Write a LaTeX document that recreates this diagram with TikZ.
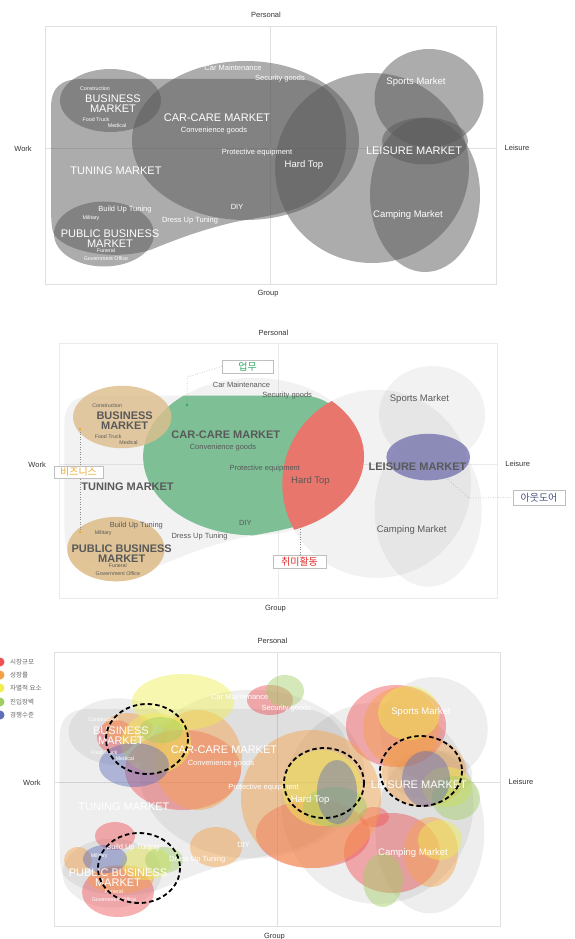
\documentclass[tikz,border=0pt]{standalone}
\usepackage{fontspec}
\setmainfont{Liberation Sans}
\newfontfamily\kr{Noto Sans CJK KR}
\usetikzlibrary{positioning}

\definecolor{cargreen}{RGB}{126,191,150}
\definecolor{biztan}{RGB}{224,192,142}
\definecolor{hobbyred}{RGB}{232,118,108}
\definecolor{outblue}{RGB}{128,126,180}
\definecolor{tagGreen}{RGB}{50,170,100}
\definecolor{tagGold}{RGB}{235,170,50}
\definecolor{tagRed}{RGB}{225,45,45}
\definecolor{tagBlue}{RGB}{70,85,130}
\definecolor{mkred}{RGB}{238,80,85}
\definecolor{mkorange}{RGB}{245,160,70}
\definecolor{mkyellow}{RGB}{240,238,80}
\definecolor{mkgreen}{RGB}{160,205,100}
\definecolor{mkblue}{RGB}{95,110,185}

\tikzset{
  marketshape/.style={fill=black!65, fill opacity=0.5},
  gridline/.style={draw=black!12, line width=0.5pt},
  axislabel/.style={font=\fontsize{7.5}{8}\selectfont, text=black!80},
  bigmarket/.style={font=\fontsize{11}{10}\selectfont, align=center, inner sep=0pt},
  midmarket/.style={font=\fontsize{9.5}{10}\selectfont, inner sep=0pt},
  smallitem/.style={font=\fontsize{7.5}{8}\selectfont, inner sep=0pt},
  tinyitem/.style={font=\fontsize{5.3}{6}\selectfont, inner sep=0pt},
  tagbox/.style={draw=black!25, fill=white, line width=0.4pt, font=\kr\fontsize{10}{10}\selectfont, minimum height=13pt, inner sep=1pt},
  tagline/.style={draw=black!45, line width=0.5pt, dotted},
  blob/.style={fill opacity=0.45},
  targetring/.style={draw=black, line width=1.8pt, dash pattern=on 4.5pt off 3pt},
  legendtext/.style={font=\kr\fontsize{6.5}{7}\selectfont, text=black!60, anchor=west, inner sep=0pt},
  paneltwo/.style={shift={(14.7,317.5)}, xscale=0.973, yscale=0.99},
  panelthree/.style={shift={(9.1,625.1)}, xscale=0.99, yscale=1.06},
}

\newcommand{\tuningblob}{(51,200) -- (51,108) .. controls (51,88) and (60,79) .. (82,79) -- (295,79)
  .. controls (330,79) and (348,108) .. (346,145) .. controls (344,180) and (320,203) .. (285,212)
  .. controls (265,217) and (250,219) .. (235,222) .. controls (200,230) and (175,240) .. (150,250)
  .. controls (110,262) and (60,250) .. (53,232) .. controls (51,225) and (51,212) .. cycle}

\newcommand{\marketframe}[1]{%
  \draw[gridline] (45.5,26) rectangle (496,284);
  \draw[gridline] (270.6,26) -- (270.6,284);
  \draw[gridline] (45.5,148) -- (496,148);
  \node[axislabel] (#1personal) at (266,15) {Personal};
  \node[axislabel] (#1group) at (268,294) {Group};
  \node[axislabel] (#1work) at (23,149) {Work};
  \node[axislabel] (#1leisureaxis) at (517,148) {Leisure};
}

\newcommand{\marketshapes}{%
  \fill[marketshape] \tuningblob;
  \fill[marketshape] (245.5,140.5) ellipse [x radius=113.5, y radius=79.5];
  \fill[marketshape] (110.5,100.5) ellipse [x radius=50.5, y radius=31.5];
  \fill[marketshape] (104,234) ellipse [x radius=50, y radius=32.5];
  \fill[marketshape] (372,168) ellipse [x radius=97, y radius=95];
  \fill[marketshape] (429,98) ellipse [x radius=54.5, y radius=49];
  \fill[marketshape] (425,195) ellipse [x radius=55, y radius=77];
  \fill[marketshape] (425,141) ellipse [x radius=43, y radius=23.5];
}

\newcommand{\marketlabels}[1]{%
  \node[tinyitem] (#1construction) at (95,89) {Construction};
  \node[bigmarket] (#1business) at (113,104) {BUSINESS\\MARKET};
  \node[tinyitem] (#1foodtruck) at (96,120) {Food Truck};
  \node[tinyitem] (#1medical) at (117,126) {Medical};
  \node[bigmarket] (#1carcare) at (217,118) {CAR-CARE MARKET};
  \node[smallitem] (#1convenience) at (214,131) {Convenience goods};
  \node[smallitem] (#1maintenance) at (233,68) {Car Maintenance};
  \node[smallitem] (#1security) at (280,79) {Security goods};
  \node[smallitem] (#1protective) at (257,153) {Protective equipment};
  \node[midmarket] (#1hardtop) at (304,165) {Hard Top};
  \node[bigmarket] (#1tuning) at (116,171) {TUNING MARKET};
  \node[bigmarket] (#1leisure) at (414,151) {LEISURE MARKET};
  \node[midmarket] (#1sports) at (416,82) {Sports Market};
  \node[midmarket] (#1camping) at (408,215) {Camping Market};
  \node[smallitem] (#1diy) at (237,207) {DIY};
  \node[smallitem] (#1buildup) at (125,210) {Build Up Tuning};
  \node[tinyitem] (#1military) at (91,218) {Military};
  \node[smallitem] (#1dressup) at (190,221) {Dress Up Tuning};
  \node[bigmarket] (#1public) at (110,238.5) {PUBLIC BUSINESS\\MARKET};
  \node[tinyitem] (#1funeral) at (106,251) {Funeral};
  \node[tinyitem] (#1government) at (106,259) {Government Office};
}

\begin{document}
\begin{tikzpicture}[x=1pt,y=-1pt]
\useasboundingbox (0,0) rectangle (575,939);

% gray market map
\begin{scope}[every node/.append style={text=white}]
  \marketframe{a}
  \marketshapes
  \marketlabels{a}
\end{scope}

% coloured segments
\begin{scope}[paneltwo, gridline/.style={draw=black!8, line width=0.5pt},
    marketshape/.style={fill=black!65, fill opacity=0.08},
    every node/.append style={text=black!65},
    bigmarket/.append style={font=\fontsize{11}{10}\selectfont\bfseries}]
  \marketframe{b}
  \marketshapes
  \begin{scope}
    \clip \tuningblob;
    \fill[cargreen] (245.5,140.5) ellipse [x radius=113.5, y radius=79.5];
  \end{scope}
  \begin{scope}
    \clip (245.5,140.5) ellipse [x radius=113.5, y radius=79.5];
    \fill[hobbyred] (372,168) ellipse [x radius=97, y radius=95];
  \end{scope}
  \fill[biztan, fill opacity=0.8] (110.5,100.5) ellipse [x radius=50.5, y radius=31.5];
  \fill[biztan, fill opacity=0.9] (104,234) ellipse [x radius=50, y radius=32.5];
  \fill[outblue, fill opacity=0.85] (425,141) ellipse [x radius=43, y radius=23.5];
  \marketlabels{b}
\end{scope}

\node[tagbox, text=tagGreen, minimum width=51pt] (worktag) at (247.5,366.5) {업무};
\coordinate (workbend) at (187,377);
\coordinate (workdot) at (187,405);
\draw[tagline] (worktag.west) -- (workbend) -- (workdot);
\fill[tagGreen] (workdot) circle [radius=1.3];

\coordinate (bizup) at (80,429);
\coordinate (bizdown) at (80,532);
\draw[tagline] (bizup) -- (bizdown);
\fill[tagGold] (bizup) circle [radius=1.3];
\fill[tagGold] (bizdown) circle [radius=1.3];
\node[tagbox, text=tagGold, minimum width=49pt, minimum height=12pt] (biztag) at (78.5,472) {비즈니스};

\node[tagbox, text=tagRed, minimum width=53pt] (hobbytag) at (299.5,561.5) {취미활동};
\coordinate (hobbytip) at (300,529);
\draw[tagline] (hobbytip) -- (hobbytip |- hobbytag.north);

\node[tagbox, text=tagBlue, minimum width=52pt, minimum height=15pt] (outtag) at (539,497.5) {아웃도어};
\coordinate (outtip) at (444,476);
\coordinate (outbend) at (469,498);
\draw[tagline] (outtip) -- (outbend) -- (outtag.west);

% factor map
\begin{scope}[panelthree, marketshape/.style={fill=black!65, fill opacity=0.1}]
  \marketframe{c}
  \marketshapes
\end{scope}

\fill[mkred, blob] (116,737) ellipse [x radius=19, y radius=17];
\fill[mkred, blob] (183,770) ellipse [x radius=58, y radius=40];
\fill[mkred, blob] (270,700) ellipse [x radius=23, y radius=15];
\fill[mkred, blob] (396,726) ellipse [x radius=50, y radius=41];
\fill[mkred, blob] (313,834) ellipse [x radius=57, y radius=34];
\fill[mkred, blob] (392,853) ellipse [x radius=48, y radius=40];
\fill[mkred, blob] (118,892) ellipse [x radius=36, y radius=25];
\fill[mkred, blob] (115,836) ellipse [x radius=20, y radius=14];
\fill[mkred, blob] (374,817) ellipse [x radius=15, y radius=10];

\fill[mkorange, blob] (311,799) ellipse [x radius=70, y radius=69];
\fill[mkorange, blob] (198,760) ellipse [x radius=44, y radius=50];
\fill[mkorange, blob] (401,727) ellipse [x radius=38, y radius=40];
\fill[mkorange, blob] (216,847) ellipse [x radius=26, y radius=20];
\fill[mkorange, blob] (121,879) ellipse [x radius=33, y radius=14];
\fill[mkorange, blob] (424,772) ellipse [x radius=42, y radius=35];
\fill[mkorange, blob] (431,852) ellipse [x radius=27, y radius=35];
\fill[mkorange, blob] (128,728) ellipse [x radius=25, y radius=15];
\fill[mkorange, blob] (78,860) ellipse [x radius=14, y radius=13];

\fill[mkyellow, blob] (183,702) ellipse [x radius=51, y radius=28];
\fill[mkyellow, blob] (156,743) ellipse [x radius=35, y radius=30];
\fill[mkyellow, blob] (322,788) ellipse [x radius=40, y radius=38];
\fill[mkyellow, blob] (409,713) ellipse [x radius=31, y radius=27];
\fill[mkyellow, blob] (447,787) ellipse [x radius=25, y radius=20];
\fill[mkyellow, blob] (440,840) ellipse [x radius=22, y radius=20];
\fill[mkyellow, blob] (146,863) ellipse [x radius=25, y radius=17];

\fill[mkgreen, blob] (285,691) ellipse [x radius=19, y radius=16];
\fill[mkgreen, blob] (161,730) ellipse [x radius=22, y radius=13];
\fill[mkgreen, blob] (456,798) ellipse [x radius=24, y radius=22];
\fill[mkgreen, blob] (383,880) ellipse [x radius=20, y radius=27];
\fill[mkgreen, blob] (164,860) ellipse [x radius=19, y radius=13];
\fill[mkgreen, blob] (335,807) ellipse [x radius=32, y radius=20];

\fill[mkblue, blob] (134,765) ellipse [x radius=35, y radius=22];
\fill[mkblue, blob] (337,792) ellipse [x radius=20, y radius=32];
\fill[mkblue, blob] (426,779) ellipse [x radius=24, y radius=28];
\fill[mkblue, blob] (105,859) ellipse [x radius=22, y radius=14];

\begin{scope}[panelthree, every node/.append style={text=white}]
  \marketlabels{c}
\end{scope}

\draw[targetring] (147,739) ellipse [x radius=41, y radius=35];
\draw[targetring] (139,868) ellipse [x radius=41, y radius=35];
\draw[targetring] (324,783) ellipse [x radius=40, y radius=35];
\draw[targetring] (421,771) ellipse [x radius=41, y radius=35];

% legend
\fill[mkred] (0,662) circle [radius=4.5];
\fill[mkorange] (0,675) circle [radius=4.5];
\fill[mkyellow] (0,688) circle [radius=4.5];
\fill[mkgreen] (0,702) circle [radius=4.5];
\fill[mkblue] (0,715) circle [radius=4.5];
\node[legendtext] (sizekey) at (10,662) {시장규모};
\node[legendtext] (growthkey) at (10,675) {성장률};
\node[legendtext] (edgekey) at (10,688) {차별적 요소};
\node[legendtext] (barrierkey) at (10,702) {진입장벽};
\node[legendtext] (rivalkey) at (10,715) {경쟁수준};
\end{tikzpicture}
\end{document}
